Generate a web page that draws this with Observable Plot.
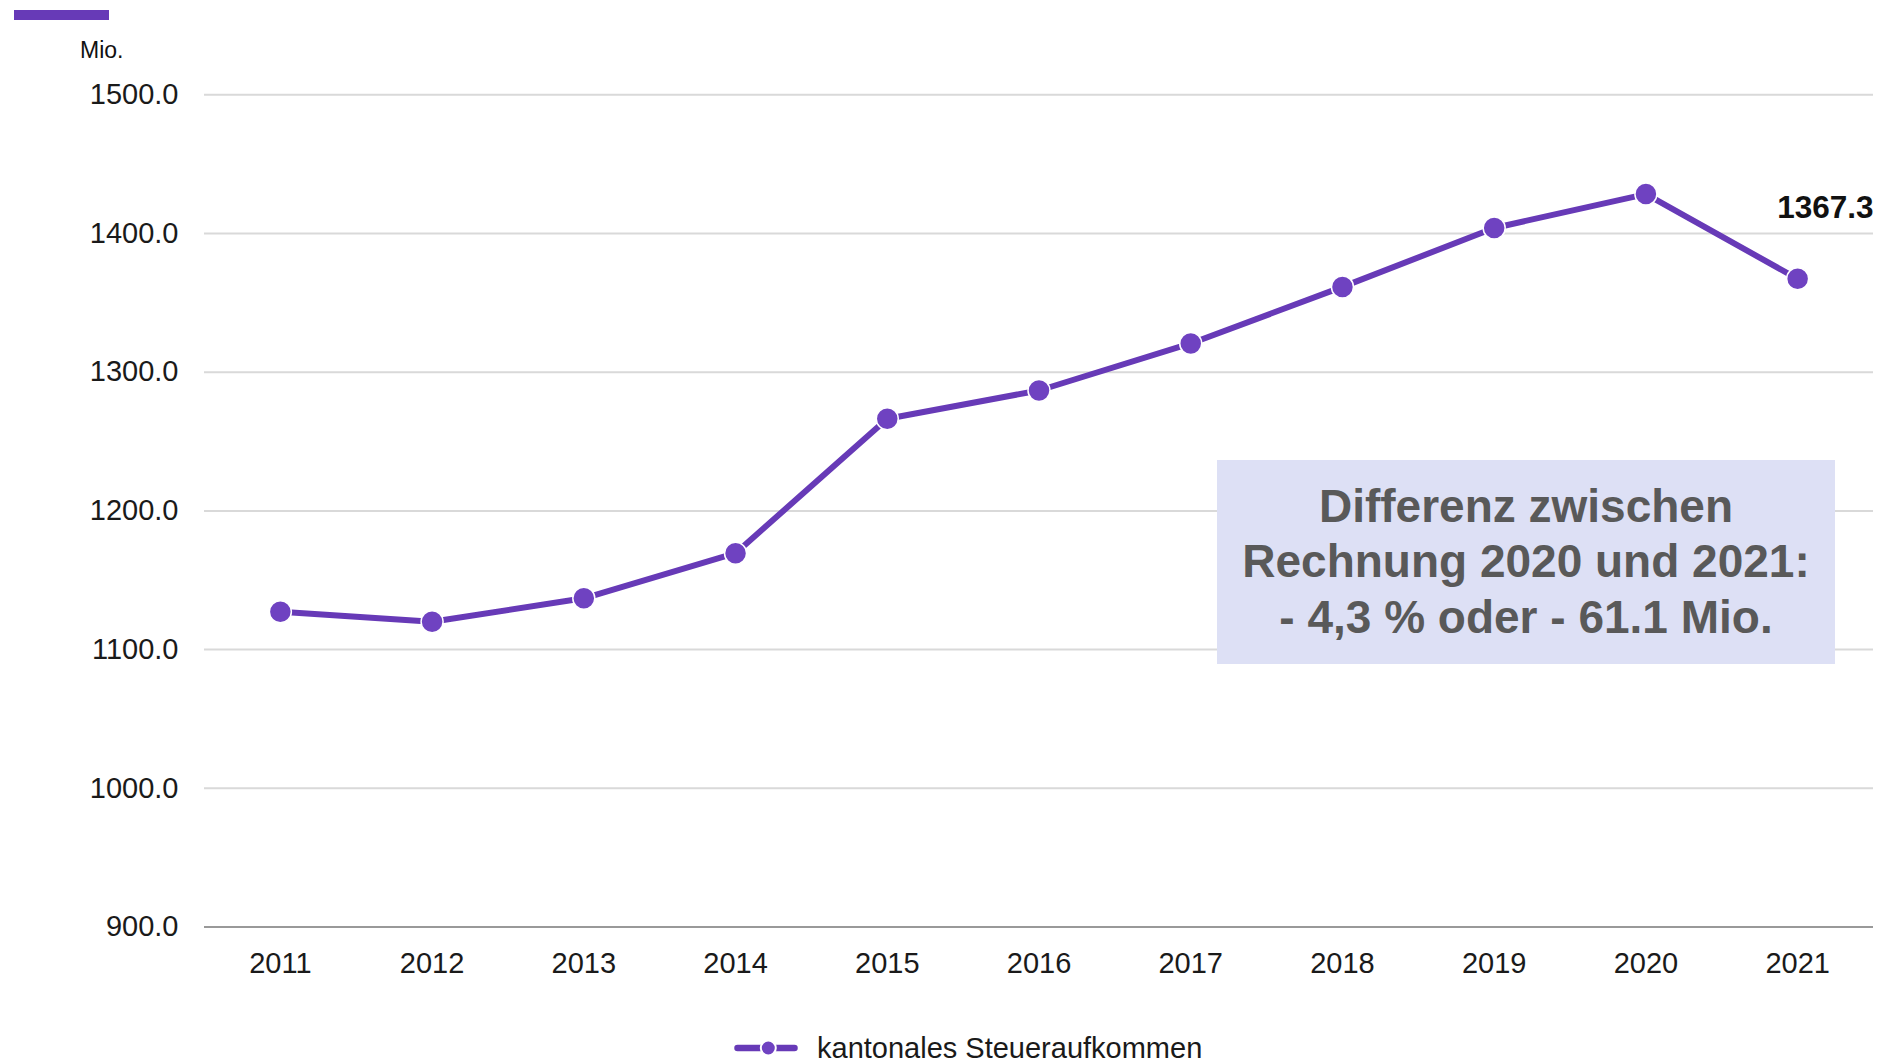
<!DOCTYPE html>
<html>
<head>
<meta charset="utf-8">
<script src="https://cdn.jsdelivr.net/npm/d3@7"></script>
<script src="https://cdn.jsdelivr.net/npm/@observablehq/plot@0.6"></script>
<style>
  html, body { margin: 0; padding: 0; background: #fff; }
  body { width: 1892px; height: 1061px; position: relative; overflow: hidden;
         font-family: "Liberation Sans", Arial, sans-serif; }
  #header { position: relative; height: 60px; }
  #bar { position: absolute; left: 14px; top: 10px; width: 95px; height: 10px; background: #673ab7; }
  #unit { position: absolute; left: 80px; top: 38.5px; font-size: 23px; line-height: 1; color: #111; }
  #chart svg { display: block; }
  #legend { position: relative; height: 41px; }
  #legend svg { position: absolute; left: 734px; top: 20px; }
  #legend span { position: absolute; left: 817px; top: 14px; font-size: 29px; line-height: 1; color: #1a1a1a; white-space: nowrap; }
  #note { position: absolute; left: 1217px; top: 460px; width: 618px; height: 204px;
          background: #dde0f5; color: #595959; font-weight: bold; font-size: 46px; line-height: 55.5px;
          display: flex; align-items: center; justify-content: center; text-align: center; }
</style>
</head>
<body>
<div id="header"><div id="bar"></div><div id="unit">Mio.</div></div>
<div id="chart"></div>
<div id="legend"></div>
<div id="note"></div>
<script>
const years = [2011, 2012, 2013, 2014, 2015, 2016, 2017, 2018, 2019, 2020, 2021];
const values = [1127.3, 1120.1, 1137.0, 1169.5, 1266.4, 1286.8, 1320.7, 1361.5, 1404.0, 1428.4, 1367.3];
const yTicks = [900, 1000, 1100, 1200, 1300, 1400, 1500];
const seriesName = "kantonales Steueraufkommen";
const unitLabel = "Mio.";
const noteLines = ["Differenz zwischen", "Rechnung 2020 und 2021:", "- 4,3 % oder - 61.1 Mio."];

const lineColor = "#673ab7";
const dotColor = "#6f42c1";

const data = years.map((year, i) => ({year, value: values[i]}));
const last = data[data.length - 1];

const chart = Plot.plot({
  width: 1892,
  height: 960,
  marginTop: 34.3,
  marginBottom: 93.5,
  marginLeft: 204,
  marginRight: 19,
  style: {fontFamily: "'Liberation Sans', Arial, sans-serif", fontSize: "29px", color: "#1a1a1a", background: "transparent"},
  x: {type: "point", domain: years, padding: 0.5, round: false, label: null},
  y: {domain: [900, 1500], label: null},
  marks: [
    Plot.ruleY(yTicks.filter(t => t > 900), {stroke: "#d9d9d9", strokeWidth: 2}),
    Plot.ruleY([900], {stroke: "#999999", strokeWidth: 2}),
    Plot.axisY({ticks: yTicks, tickSize: 0, tickPadding: 26, tickFormat: d => d.toFixed(1), label: null}),
    Plot.axisX({tickSize: 0, tickPadding: 25, tickFormat: d => String(d), label: null}),
    Plot.line(data, {x: "year", y: "value", stroke: lineColor, strokeWidth: 6}),
    Plot.dot(data, {x: "year", y: "value", r: 11, fill: dotColor, stroke: "white", strokeWidth: 1.5}),
    Plot.text([last], {x: "year", y: "value", text: d => d.value.toFixed(1), textAnchor: "end",
      dx: 76, dy: -71, fontSize: 31.5, fontWeight: "bold", fill: "#111"})
  ]
});
document.getElementById("chart").appendChild(chart);
document.getElementById("unit").textContent = unitLabel;

// legend
const leg = document.getElementById("legend");
const ls = d3.create("svg").attr("width", 64).attr("height", 16);
ls.append("line").attr("x1", 3.5).attr("x2", 60.5).attr("y1", 8).attr("y2", 8)
  .attr("stroke", lineColor).attr("stroke-width", 6.5).attr("stroke-linecap", "round");
ls.append("circle").attr("cx", 34.3).attr("cy", 8).attr("r", 7.5)
  .attr("fill", dotColor).attr("stroke", "white").attr("stroke-width", 2);
leg.appendChild(ls.node());
const sp = document.createElement("span");
sp.textContent = seriesName;
leg.appendChild(sp);

// annotation
const note = document.getElementById("note");
const inner = document.createElement("div");
inner.innerHTML = noteLines.map(s => s.replace(/&/g, "&amp;").replace(/</g, "&lt;")).join("<br>");
note.appendChild(inner);
</script>
</body>
</html>
